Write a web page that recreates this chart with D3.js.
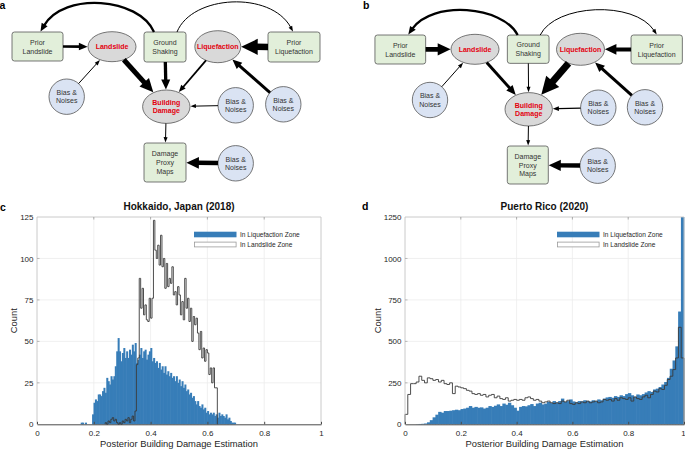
<!DOCTYPE html>
<html><head><meta charset="utf-8">
<script src="https://cdn.jsdelivr.net/npm/d3@7"></script>
<style>
body{margin:0;background:#fff;}
svg{display:block;font-family:"Liberation Sans",Arial,Helvetica,sans-serif;}
</style></head><body>
<svg id="fig" width="685" height="450"></svg>
<script>
// ================= DATA =================
// Diagram (panels a, b)
const nodeIds = ["PL","LS","GS","LQ","PQ","B1","BD","B2","B3","DPM","B4"];
const nodeLabels = {PL:["Prior","Landslide"], LS:["Landslide"], GS:["Ground","Shaking"], LQ:["Liquefaction"],
  PQ:["Prior","Liquefaction"], B1:["Bias &","Noises"], BD:["Building","Damage"], B2:["Bias &","Noises"],
  B3:["Bias &","Noises"], DPM:["Damage","Proxy","Maps"], B4:["Bias &","Noises"]};
const nodeKinds = {PL:"prior",LS:"latent",GS:"prior",LQ:"latent",PQ:"prior",B1:"noise",BD:"latent",
  B2:"noise",B3:"noise",DPM:"prior",B4:"noise"};
const edgeList = [["GS","PL"],["GS","PQ"],["PL","LS"],["B1","LS"],["LS","BD"],["GS","BD"],
  ["LQ","BD"],["PQ","LQ"],["B3","LQ"],["B2","BD"],["BD","DPM"],["B4","DPM"]];
const edgeCurved = [true,true,false,false,false,false,false,false,false,false,false,false];
const edgeWeightsA = [2.3,1,2.6,1,5,3.3,1.8,6.5,3,1,1,4.5];
const edgeWeightsB = [2.3,1,4.7,1,3,1,7,4,3,1.3,1,4.3];

// Histograms (panels c, d)
const xTickValues = [0,0.2,0.4,0.6,0.8,1];
const legendLabels = ["In Liquefaction Zone","In Landslide Zone"];
const xAxisLabel = "Posterior Building Damage Estimation";
const yAxisLabel = "Count";

const hokTitle = "Hokkaido, Japan (2018)";
const hokYTicks = [0,25,50,75,100,125];
const hokBinWidth = 0.005;
const hokLiqStart = 0.155;
const hokLiqCounts = [1,1,0,1,0,0,0,0,6,13,15,14,18,18,17,20,22,19,28,26,24,29,27,29,35,44,52,44,38,43,
  46,40,44,40,45,42,48,44,49,37,39,42,46,40,44,45,39,42,44,46,38,40,37,38,34,37,33,35,31,35,30,32,29,31,
  28,29,26,29,25,27,23,26,22,24,20,21,18,19,16,17,14,12,14,11,10,12,9,10,7,8,6,7,6,7,5,6,4,7,5,6,5,4,6,
  3,4,2,1,1,1];
const hokLandStart = 0.24;
const hokLandCounts = [1,0,2,1,3,4,2,3,1,0,1,0,2,1,3,2,4,1,3,5,2,8,36,40,88,70,82,66,72,63,62,76,64,76,
  123,105,100,108,96,114,95,100,82,97,83,88,85,95,78,80,72,83,78,66,74,63,88,70,76,62,70,50,65,60,64,55,
  45,56,40,46,38,45,43,30,34,25,34,22,22];

const prTitle = "Puerto Rico (2020)";
const prYTicks = [0,250,500,750,1000,1250];
const prBinWidth = 0.01;
const prLiqStart = 0;
const prLiqCounts = [0,0,0,0,1,2,3,5,12,25,
  42,58,75,70,80,80,82,85,88,85,
  92,95,100,110,100,105,100,102,95,100,
  110,105,112,120,110,125,118,130,115,100,
  82,105,110,108,115,122,110,125,130,120,
  125,135,128,140,130,140,155,135,140,150,
  138,132,140,138,145,140,138,145,140,150,
  145,155,162,165,160,170,165,175,170,182,
  188,175,165,180,175,182,192,200,195,210,
  215,225,240,255,280,335,385,470,680,1250];
const prLandStart = 0;
const prLandCounts = [60,180,245,245,255,290,265,250,280,275,
  265,270,255,265,245,240,250,185,230,225,
  220,215,205,200,185,180,185,175,180,165,
  175,180,160,170,155,150,160,140,145,150,
  145,150,145,160,165,155,145,150,140,130,
  135,140,130,125,130,125,140,135,145,125,
  120,130,125,135,130,140,130,135,140,130,
  135,150,145,150,140,155,145,160,155,150,
  160,140,165,155,150,165,175,160,180,200,
  195,215,210,235,270,290,330,400,585,400];

// ================= LAYOUT / STYLE =================
const layoutA = {
  PL:{x:37.5,y:46.5,w:51,h:29}, LS:{x:112,y:46.7,rx:24,ry:15}, GS:{x:165,y:47,w:42,h:30},
  LQ:{x:217.8,y:46.7,rx:23,ry:16}, PQ:{x:294,y:47,w:52,h:30}, B1:{x:66.7,y:96.7,r:17.7},
  BD:{x:166.3,y:106.7,rx:23.7,ry:16.7}, B2:{x:235.7,y:105.3,r:17.7}, B3:{x:283.3,y:104.3,r:17.7},
  DPM:{x:165,y:162.5,w:42,h:39}, B4:{x:235.7,y:163.3,r:17.7},
  arcs:[{dx0:-11,dx1:3,peak:6},{dx0:12,dx1:-1,peak:4}]
};
const layoutB = {
  PL:{x:400.3,y:49.5,w:50.7,h:29}, LS:{x:475,y:49.3,rx:24,ry:15}, GS:{x:528.2,y:49.2,w:41.7,h:28.3},
  LQ:{x:580.5,y:49.3,rx:24,ry:16}, PQ:{x:656.7,y:49.5,w:51.3,h:29}, B1:{x:430,y:100,r:17.7},
  BD:{x:528.7,y:109.3,rx:23.7,ry:16.7}, B2:{x:598.3,y:107.7,r:17.7}, B3:{x:645,y:107.3,r:17.7},
  DPM:{x:527.8,y:165,w:41,h:38}, B4:{x:597.7,y:165.7,r:17.7},
  arcs:[{dx0:-10.5,dx1:8,peak:13},{dx0:12,dx1:0,peak:11.7}]
};
const kindStyle = {
  prior:{fill:"#e2efda", text:"#333333", weight:"normal"},
  latent:{fill:"#d9d9d9", text:"#e3000f", weight:"bold"},
  noise:{fill:"#dae3f3", text:"#333333", weight:"normal"}
};
const BLUE = "#377db8";

const svg = d3.select("#fig");

// ================= DIAGRAMS =================
function boundary(p, ux, uy){
  if (p.r !== undefined) return p.r;
  if (p.rx !== undefined) return 1/Math.sqrt((ux/p.rx)**2 + (uy/p.ry)**2);
  const a = Math.abs(ux) > 1e-9 ? (p.w/2)/Math.abs(ux) : Infinity;
  const b = Math.abs(uy) > 1e-9 ? (p.h/2)/Math.abs(uy) : Infinity;
  return Math.min(a,b);
}
function headGeom(tip, ux, uy, w){
  const L = 2*w + 3.5, HW = 2.2*w + 1.8;
  const bx = tip[0]-ux*L, by = tip[1]-uy*L;
  const nx = -uy, ny = ux;
  return {L, pts:[[tip[0],tip[1]],[bx+nx*HW/2, by+ny*HW/2],[bx-nx*HW/2, by-ny*HW/2]]};
}
function drawDiagram(layout, weights){
  const g = svg.append("g");
  const nodes = nodeIds.map(id => Object.assign({id, kind:nodeKinds[id], lines:nodeLabels[id]}, layout[id]));
  const byId = Object.fromEntries(nodes.map(n => [n.id, n]));

  g.selectAll("rect.node").data(nodes.filter(n => n.w !== undefined)).join("rect")
    .attr("x", d => d.x - d.w/2).attr("y", d => d.y - d.h/2).attr("width", d => d.w).attr("height", d => d.h)
    .attr("rx", 2.5).attr("fill", d => kindStyle[d.kind].fill).attr("stroke", "#555").attr("stroke-width", 0.8);
  g.selectAll("ellipse.node").data(nodes.filter(n => n.rx !== undefined)).join("ellipse")
    .attr("cx", d => d.x).attr("cy", d => d.y).attr("rx", d => d.rx).attr("ry", d => d.ry)
    .attr("fill", d => kindStyle[d.kind].fill).attr("stroke", "#555").attr("stroke-width", 0.8);
  g.selectAll("circle.node").data(nodes.filter(n => n.r !== undefined)).join("circle")
    .attr("cx", d => d.x).attr("cy", d => d.y).attr("r", d => d.r)
    .attr("fill", d => kindStyle[d.kind].fill).attr("stroke", "#555").attr("stroke-width", 0.8);

  nodes.forEach(n => {
    const sp = n.lines.length === 3 ? 8.6 : (n.kind === "prior" ? 9 : 8.2);
    const t = g.append("text").attr("text-anchor","middle").attr("font-size", 7)
      .attr("fill", kindStyle[n.kind].text).attr("font-weight", kindStyle[n.kind].weight);
    n.lines.forEach((ln, i) => {
      t.append("tspan").attr("x", n.x).attr("y", n.y + (i - (n.lines.length-1)/2)*sp).attr("dy","0.36em").text(ln);
    });
  });

  let arcIdx = 0;
  edgeList.forEach((e, i) => {
    const s = byId[e[0]], t = byId[e[1]], w = weights[i];
    if (edgeCurved[i]) {
      const spec = layout.arcs[arcIdx++];
      const x0 = s.x + spec.dx0, y0 = s.y - s.h/2;
      const x1 = t.x + spec.dx1, y1 = t.y - t.h/2 - 0.5;
      const c = (8*spec.peak - y0 - y1)/6;
      const sg = Math.sign(x1 - x0);
      const p1 = [x0 + sg*15, c], p2 = [x1 - sg*20, c];
      let ux = x1 - p2[0], uy = y1 - p2[1]; const m = Math.hypot(ux,uy); ux/=m; uy/=m;
      const hg = headGeom([x1,y1], ux, uy, w);
      const k = hg.L*0.85;
      const path = d3.path();
      path.moveTo(x0,y0);
      path.bezierCurveTo(p1[0],p1[1], p2[0]-ux*k, p2[1]-uy*k, x1-ux*k, y1-uy*k);
      g.append("path").attr("d", path.toString()).attr("fill","none").attr("stroke","#000").attr("stroke-width", w);
      g.append("path").attr("d", d3.line()(hg.pts) + "Z").attr("fill","#000");
    } else {
      let ux = t.x - s.x, uy = t.y - s.y; const m = Math.hypot(ux,uy); ux/=m; uy/=m;
      const bs = boundary(s, ux, uy), bt = boundary(t, ux, uy);
      const st = [s.x + ux*bs, s.y + uy*bs];
      const tip = [t.x - ux*(bt+0.4), t.y - uy*(bt+0.4)];
      const hg = headGeom(tip, ux, uy, w);
      const k = hg.L*0.85;
      g.append("line").attr("x1", st[0]).attr("y1", st[1]).attr("x2", tip[0]-ux*k).attr("y2", tip[1]-uy*k)
        .attr("stroke","#000").attr("stroke-width", w);
      g.append("path").attr("d", d3.line()(hg.pts) + "Z").attr("fill","#000");
    }
  });
}
drawDiagram(layoutA, edgeWeightsA);
drawDiagram(layoutB, edgeWeightsB);

// ================= HISTOGRAMS =================
function drawHist(p){
  const x = d3.scaleLinear().domain([0,1]).range([p.x0, p.x1]);
  const y = d3.scaleLinear().domain([0, p.yTicks[p.yTicks.length-1]]).range([p.yBot, p.yTop]);
  const g = svg.append("g");
  g.selectAll("line.gx").data(xTickValues.slice(1,-1)).join("line")
    .attr("x1", d => x(d)).attr("x2", d => x(d)).attr("y1", p.yTop).attr("y2", p.yBot)
    .attr("stroke","#ececec").attr("stroke-width",0.8);
  g.selectAll("line.gy").data(p.yTicks.slice(1,-1)).join("line")
    .attr("x1", p.x0).attr("x2", p.x1).attr("y1", d => y(d)).attr("y2", d => y(d))
    .attr("stroke","#ececec").attr("stroke-width",0.8);
  const liq = p.liqCounts.map((c,i) => ({a:p.liqStart + i*p.bw, b:p.liqStart + (i+1)*p.bw, c}));
  g.selectAll("rect.bar").data(liq.filter(d => d.c > 0)).join("rect")
    .attr("x", d => x(d.a) - 0.3).attr("width", d => x(d.b) - x(d.a) + 0.6)
    .attr("y", d => y(d.c)).attr("height", d => y(0) - y(d.c)).attr("fill", BLUE);
  const pts = [];
  p.landCounts.forEach((c,i) => {
    const a = p.landStart + i*p.bw;
    if (i === 0) pts.push([a,0]);
    pts.push([a,c]); pts.push([a + p.bw, c]);
  });
  pts.push([p.landStart + p.landCounts.length*p.bw, 0]);
  g.append("path").attr("d", d3.line().x(d => x(d[0])).y(d => y(d[1]))(pts))
    .attr("fill","none").attr("stroke","#3a3a3a").attr("stroke-width",0.9);
  g.append("path").attr("d", `M${p.x0},${p.yBot}V${p.yTop}H${p.x1}V${p.yBot}`)
    .attr("fill","none").attr("stroke","#c4c4c4").attr("stroke-width",0.9);
  g.selectAll("line.tt").data(xTickValues.slice(1,-1)).join("line")
    .attr("x1", d => x(d)).attr("x2", d => x(d)).attr("y1", p.yTop).attr("y2", p.yTop + 2.5)
    .attr("stroke","#999").attr("stroke-width",0.8);
  g.selectAll("line.tl").data(p.yTicks.slice(1,-1)).join("line")
    .attr("x1", p.x0).attr("x2", p.x0 + 2.5).attr("y1", d => y(d)).attr("y2", d => y(d))
    .attr("stroke","#aaa").attr("stroke-width",0.8);
  const xa = g.append("g").attr("transform", `translate(0,${p.yBot})`)
    .call(d3.axisBottom(x).tickValues(xTickValues).tickFormat(d3.format("~g"))
      .tickSize(-2.5).tickSizeOuter(0).tickPadding(6.2));
  xa.select(".domain").attr("stroke","#4a4a4a").attr("stroke-width",1);
  xa.selectAll(".tick line").attr("stroke","#4a4a4a");
  xa.selectAll("text").attr("font-size",8).attr("fill","#262626").attr("font-family",null);
  // keep the last tick label inside the page when the axis touches the right edge
  if (p.x1 > 680) xa.selectAll(".tick text").filter(d => d === 1).attr("text-anchor","end").attr("dx", 1.2);
  const ya = g.append("g").attr("transform", `translate(${p.x0},0)`)
    .call(d3.axisLeft(y).tickValues(p.yTicks).tickFormat(d3.format("d")).tickSize(0).tickSizeOuter(0).tickPadding(3.5));
  ya.select(".domain").remove();
  ya.selectAll("text").attr("font-size",8).attr("fill","#262626").attr("font-family",null);
  g.append("text").attr("x",(p.x0+p.x1)/2).attr("y",209.5).attr("text-anchor","middle")
    .attr("font-size",10).attr("font-weight","bold").attr("fill","#111").text(p.title);
  g.append("text").attr("x",(p.x0+p.x1)/2).attr("y",447).attr("text-anchor","middle")
    .attr("font-size",9.4).attr("fill","#262626").text(xAxisLabel);
  g.append("text").attr("transform",`translate(${p.ylabX},${(p.yTop+p.yBot)/2}) rotate(-90)`)
    .attr("text-anchor","middle").attr("font-size",9.4).attr("fill","#262626").text(yAxisLabel);
  const lx = p.x1 - 127, ly = p.yTop + 14.7;
  g.append("rect").attr("x",lx).attr("y",ly).attr("width",42.5).attr("height",5.6).attr("fill",BLUE);
  g.append("rect").attr("x",lx+0.4).attr("y",ly+10.4).attr("width",41.7).attr("height",4.8)
    .attr("fill","#fff").attr("stroke","#9a9a9a").attr("stroke-width",0.8);
  legendLabels.forEach((t,i) => {
    g.append("text").attr("x", lx+46).attr("y", ly + 2.8 + i*10).attr("dy","0.35em")
      .attr("font-size",6.6).attr("fill","#262626").text(t);
  });
}
drawHist({x0:37, x1:321, yTop:217, yBot:424.3, yTicks:hokYTicks, bw:hokBinWidth,
  liqStart:hokLiqStart, liqCounts:hokLiqCounts, landStart:hokLandStart, landCounts:hokLandCounts,
  title:hokTitle, ylabX:17});
drawHist({x0:405, x1:684, yTop:217, yBot:424.3, yTicks:prYTicks, bw:prBinWidth,
  liqStart:prLiqStart, liqCounts:prLiqCounts, landStart:prLandStart, landCounts:prLandCounts,
  title:prTitle, ylabX:381});

[["a",-0.5,8.5],["b",363,9],["c",0,211],["d",362,210]].forEach(d => {
  svg.append("text").attr("x",d[1]).attr("y",d[2]).attr("font-size",10.5).attr("font-weight","bold")
    .attr("fill","#000").text(d[0]);
});
</script>
</body></html>
